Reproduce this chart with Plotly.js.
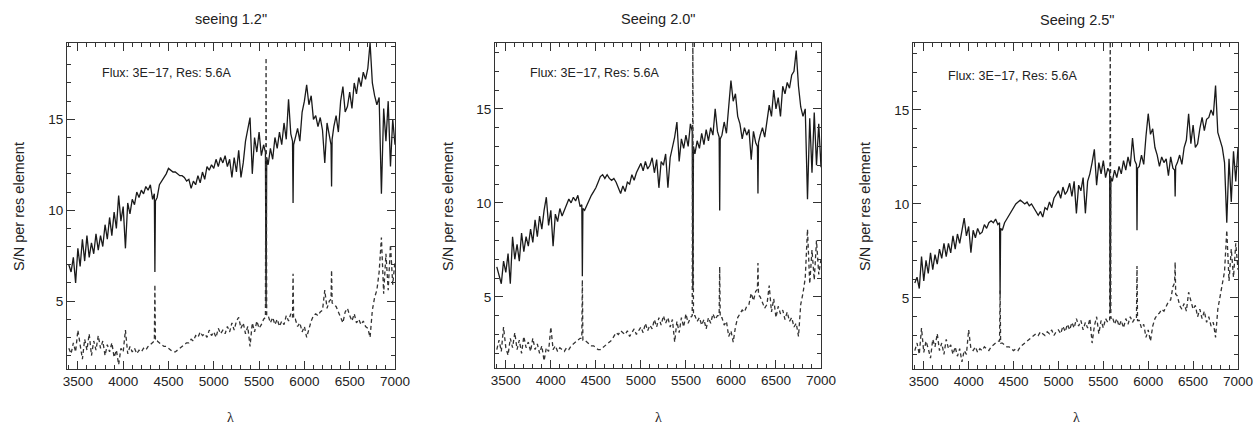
<!DOCTYPE html>
<html>
<head>
<meta charset="utf-8">
<script src="https://cdn.plot.ly/plotly-3.0.1.min.js"></script>
<style>html,body{margin:0;padding:0;background:#fff;}#chart{width:1257px;height:425px;}</style>
</head>
<body>
<div id="chart"></div>
<script>
// Wavelength grid (Angstrom), denser around the narrow lines
const wavelength = [3400,3425,3450,3475,3500,3525,3550,3575,3600,3625,3650,3675,3700,3725,3750,3775,3800,3825,3850,3875,
3900,3925,3950,3975,4000,4025,4050,4075,4100,4125,4150,4175,4200,4225,4250,4275,4300,4325,
4344,4350,4356,
4375,4400,4425,4450,4475,4500,4525,4550,4575,4600,4625,4650,4675,4700,4725,4750,4775,4800,4825,4850,4875,
4900,4925,4950,4975,5000,5025,5050,5075,5100,5125,5150,5175,5200,5225,5250,5275,5300,5325,5350,5375,
5400,5425,5450,5475,5500,5525,5550,
5570,5577,5584,
5600,5625,5650,5675,5700,5725,5750,5775,5800,5825,5850,
5869,5875,5881,
5900,5925,5950,5975,6000,6025,6050,6075,6100,6125,6150,6175,6200,6225,6250,6275,
6294,6300,6306,
6325,6350,6375,6400,6425,6450,6475,6500,6525,6550,6575,6600,6625,6650,6675,6700,6725,6750,6775,6800,6825,6850,6875,
6900,6925,6950,6975,7000];

// Seeing 1.2"
const sn12_solid = [7.0,6.6,7.4,6.0,7.9,6.9,8.4,7.2,8.6,7.4,8.2,7.6,8.7,7.8,8.6,8.0,9.2,8.4,9.6,8.6,
9.9,9.0,10.8,9.4,10.2,7.9,10.4,9.8,10.6,10.3,11.0,10.7,11.1,10.9,11.3,11.1,11.4,10.6,
10.9,6.6,10.5,
10.7,11.4,11.6,11.8,12.0,12.3,12.2,12.1,12.1,12.0,11.9,11.9,11.8,11.6,11.7,11.2,11.6,11.4,11.9,11.5,12.1,
11.7,12.4,12.2,12.5,12.3,12.8,12.4,12.9,12.6,13.0,12.4,12.8,11.8,12.9,12.1,13.3,11.8,12.6,13.8,14.4,
15.1,12.0,14.0,13.2,14.3,13.0,13.6,
13.2,4.7,12.9,
12.5,13.4,12.8,14.0,13.4,14.3,13.6,14.8,13.9,16.1,14.2,
13.8,10.4,13.6,
14.0,14.5,13.8,15.4,16.0,16.9,15.8,16.3,15.0,15.2,14.6,15.1,14.4,12.6,14.8,14.0,
13.6,11.3,13.9,
14.6,15.2,14.3,16.0,16.8,15.4,15.7,16.5,15.6,17.0,16.4,17.3,16.8,17.6,17.2,17.8,19.2,17.0,16.3,15.8,16.2,10.9,15.6,
13.8,16.0,12.4,15.0,13.6];
const sn12_dashed = [2.4,2.1,2.7,2.2,3.4,2.5,1.8,2.9,2.3,3.2,2.0,2.8,2.3,3.1,2.4,2.8,2.0,2.6,2.2,2.7,
1.9,2.3,1.5,2.4,2.2,3.4,2.1,2.5,2.2,2.4,2.1,2.3,2.2,2.4,2.3,2.5,2.6,2.7,
2.8,5.9,2.8,
2.8,2.7,2.6,2.5,2.5,2.4,2.3,2.2,2.2,2.3,2.4,2.5,2.6,2.7,2.7,2.9,2.8,3.1,3.0,3.3,3.1,
3.2,3.0,3.4,3.1,3.3,3.0,3.5,3.2,3.4,3.2,3.6,3.3,3.8,3.4,3.9,4.1,3.5,3.8,3.2,3.6,
2.5,3.8,3.3,3.9,3.5,3.7,4.0,
4.1,18.4,4.2,
4.2,3.8,4.1,3.7,4.0,3.6,3.9,3.7,4.2,3.9,4.3,
4.1,6.5,4.0,
4.0,3.6,3.8,3.3,3.6,3.0,3.5,3.9,4.2,4.3,4.2,4.4,4.5,5.6,4.6,5.0,
5.1,6.7,4.9,
4.8,4.7,4.4,4.1,3.8,4.4,4.6,4.2,3.9,4.3,3.8,4.0,3.7,3.9,3.6,3.5,3.0,4.5,5.2,5.6,6.6,8.5,5.4,
7.6,5.6,8.1,5.9,7.2];

// Seeing 2.0"
const sn20_solid = [6.6,6.2,5.7,6.9,6.3,7.3,5.7,8.2,7.0,7.8,6.9,8.4,7.4,8.2,7.7,8.6,7.9,9.1,8.2,9.3,
8.6,9.6,10.3,8.8,9.6,7.7,9.4,9.0,9.7,9.3,9.6,9.8,10.2,10.0,10.3,10.1,10.4,9.8,
9.9,6.1,9.7,
9.6,9.9,10.1,10.4,10.6,10.8,11.1,11.4,11.5,11.3,11.5,11.3,11.2,11.3,11.1,10.8,10.5,10.9,10.6,11.1,11.0,
11.5,11.2,11.6,11.9,12.1,11.7,12.2,11.8,12.0,12.4,11.6,12.3,10.8,12.2,12.0,12.6,10.8,12.4,12.9,13.5,
14.3,12.2,13.4,12.9,13.6,13.0,14.2,
13.8,5.4,13.0,
12.6,13.3,12.9,13.7,13.1,13.9,13.3,14.0,13.6,15.0,13.8,
13.5,9.6,13.4,
13.6,14.3,13.7,15.2,16.5,15.4,15.8,14.6,14.2,13.4,14.0,13.6,13.9,12.3,13.8,13.2,
13.0,10.5,13.2,
13.6,14.0,13.5,14.3,15.2,14.6,16.0,15.0,15.6,14.6,16.2,15.8,16.4,16.1,16.8,17.0,18.1,16.2,15.1,14.6,15.0,10.2,14.5,
11.6,14.8,12.0,14.2,11.9];
const sn20_dashed = [2.2,2.7,2.1,3.4,2.3,1.9,2.8,2.3,3.1,2.2,2.7,2.0,2.9,2.3,2.6,2.1,2.8,2.2,2.5,2.0,
2.4,1.6,2.3,2.1,3.4,2.2,2.4,2.1,2.3,2.2,2.1,2.3,2.2,2.4,2.5,2.6,2.7,2.8,
2.8,5.9,2.7,
2.7,2.6,2.5,2.4,2.4,2.3,2.2,2.2,2.3,2.4,2.5,2.6,2.7,2.9,3.1,3.0,3.2,3.1,3.0,3.2,2.9,
3.1,3.3,3.0,3.2,3.4,3.1,3.6,3.2,3.5,3.3,3.8,3.4,3.9,3.5,4.0,3.6,3.9,3.4,3.8,2.6,
3.7,3.1,3.9,3.4,4.1,3.6,3.9,
4.0,19.0,4.0,
4.0,3.7,3.9,3.5,3.8,3.3,3.9,3.6,4.1,3.8,4.0,
4.0,6.6,3.9,
3.9,3.5,3.7,2.9,3.2,2.6,3.4,3.9,4.1,4.3,4.2,4.5,4.6,5.2,4.8,5.3,
5.4,6.8,5.1,
5.0,4.7,4.4,4.6,5.6,4.2,4.9,3.9,4.5,4.1,4.3,3.8,4.2,3.7,3.9,3.4,3.6,2.9,4.6,5.2,6.0,8.6,5.7,
7.5,5.9,8.0,6.2,7.0];

// Seeing 2.5"
const sn25_solid = [5.8,6.1,5.5,7.2,5.9,7.0,6.3,7.4,6.5,7.3,6.8,7.6,7.1,7.9,7.2,7.9,7.4,8.3,7.6,8.4,
7.9,8.7,9.25,8.3,8.8,7.4,8.6,8.2,8.7,8.4,8.5,8.9,8.7,9.0,9.1,9.0,9.2,8.9,
9.0,5.2,8.7,
8.6,9.0,9.2,9.4,9.6,9.8,10.0,10.1,10.2,10.1,10.0,10.1,9.9,10.0,9.8,9.6,9.4,9.6,9.3,9.8,9.7,
10.1,9.8,10.3,10.5,10.7,10.3,10.9,10.5,10.7,11.1,10.4,11.2,9.5,11.0,10.7,11.4,9.5,11.2,11.6,12.2,
12.9,11.0,12.2,11.6,12.3,11.4,11.9,
11.7,4.4,11.4,
11.2,11.8,11.4,12.0,11.6,12.3,11.8,12.5,12.0,13.5,12.3,
12.1,8.6,11.9,
12.0,12.6,12.1,13.6,14.8,13.7,14.0,13.0,12.6,12.0,12.5,12.2,12.4,11.5,12.5,11.9,
11.8,10.4,12.0,
12.2,12.6,12.1,13.0,13.4,14.8,13.2,14.2,13.0,13.2,14.0,14.6,13.9,14.5,14.6,15.0,14.7,16.3,13.8,13.4,13.0,12.2,9.0,
12.4,10.1,12.8,11.2,13.0];
const sn25_dashed = [2.2,2.6,2.0,3.4,2.1,2.7,2.3,1.8,2.8,2.4,3.1,2.2,2.6,2.0,2.8,2.3,2.5,2.0,2.4,1.9,
2.3,1.6,2.2,2.0,3.3,2.3,2.2,2.4,2.1,2.3,2.2,2.4,2.3,2.2,2.4,2.5,2.6,2.7,
2.7,5.4,2.6,
2.6,2.5,2.4,2.4,2.3,2.2,2.3,2.2,2.4,2.5,2.6,2.7,2.8,2.9,3.0,3.1,3.0,3.2,3.1,3.0,3.2,
3.1,3.3,3.0,3.2,3.3,3.1,3.5,3.2,3.6,3.3,3.7,3.4,3.9,3.5,3.8,3.3,3.7,3.4,3.9,2.6,
3.5,4.0,3.1,3.8,3.4,3.9,3.7,
3.8,19.0,3.9,
4.0,3.6,3.9,3.5,3.8,3.4,3.9,3.6,4.0,3.7,3.9,
3.9,6.7,3.8,
3.8,3.4,3.6,2.9,3.3,2.7,3.5,3.9,4.1,4.2,4.4,4.3,4.6,4.8,4.9,5.6,
5.8,6.9,5.2,
5.1,4.6,4.4,4.7,4.3,5.3,4.9,4.4,4.6,4.0,4.4,3.9,4.3,3.7,4.0,3.5,3.7,2.9,4.4,5.0,5.8,6.4,8.6,
5.9,7.6,6.1,7.9,6.5];

const panelTitles = ['seeing 1.2"', 'Seeing 2.0"', 'Seeing 2.5"'];
const noteText = 'Flux: 3E\u221217, Res: 5.6A';
const yTitle = 'S/N per res element';
const xTitle = '\u03bb';
const xTickVals = [3500,4000,4500,5000,5500,6000,6500,7000];
const yTickVals = [5,10,15];

const W = 1257, H = 425;
const panels = [
  {solid: sn12_solid, dashed: sn12_dashed, x0: 67, x1: 395, yt: 43, yb: 369, yr: [1.26, 19.2], tx: 231, ty: 19, nx: 100, ny: 73, ytx: 19, xtx: 230},
  {solid: sn20_solid, dashed: sn20_dashed, x0: 495, x1: 821, yt: 43, yb: 368, yr: [1.22, 18.5], tx: 658, ty: 19, nx: 528, ny: 73, ytx: 448, xtx: 658},
  {solid: sn25_solid, dashed: sn25_dashed, x0: 913, x1: 1238, yt: 43, yb: 369, yr: [1.22, 18.56], tx: 1077, ty: 20, nx: 946, ny: 76, ytx: 865, xtx: 1076}
];

const traces = [];
const layout = {
  width: W, height: H, autosize: false,
  margin: {l: 0, r: 0, t: 0, b: 0, pad: 0},
  paper_bgcolor: '#ffffff', plot_bgcolor: '#ffffff',
  showlegend: false,
  font: {family: 'Liberation Sans, Arial, sans-serif', color: '#222', size: 13},
  annotations: []
};
const axCommon = {
  showgrid: false, zeroline: false, showline: true, mirror: 'ticks',
  linecolor: '#333', linewidth: 1, ticks: 'inside', tickcolor: '#333', tickwidth: 1,
  tickfont: {family: 'Liberation Sans, Arial, sans-serif', size: 13.5, color: '#222'}
};
panels.forEach((p, i) => {
  const sfx = i === 0 ? '' : String(i + 1);
  traces.push({x: wavelength, y: p.solid, type: 'scatter', mode: 'lines', xaxis: 'x' + sfx, yaxis: 'y' + sfx,
    line: {color: '#1a1a1a', width: 1.3}, hoverinfo: 'skip'});
  traces.push({x: wavelength, y: p.dashed, type: 'scatter', mode: 'lines', xaxis: 'x' + sfx, yaxis: 'y' + sfx,
    line: {color: '#333', width: 1.3, dash: '4px,3px'}, hoverinfo: 'skip'});
  layout['xaxis' + sfx] = Object.assign({}, axCommon, {
    domain: [p.x0 / W, p.x1 / W], anchor: 'y' + sfx, range: [3380, 7000],
    tickmode: 'array', tickvals: xTickVals, ticklen: 8,
    minor: {dtick: 100, tick0: 3400, ticklen: 4, ticks: 'inside', tickcolor: '#333', showgrid: false}
  });
  layout['yaxis' + sfx] = Object.assign({}, axCommon, {
    domain: [(H - p.yb) / H, (H - p.yt) / H], anchor: 'x' + sfx, range: p.yr,
    tickmode: 'array', tickvals: yTickVals, ticklen: 8,
    minor: {dtick: 1, tick0: 0, ticklen: 4, ticks: 'inside', tickcolor: '#333', showgrid: false}
  });
  layout.annotations.push({xref: 'paper', yref: 'paper', x: p.tx / W, y: 1 - p.ty / H, text: panelTitles[i],
    showarrow: false, xanchor: 'center', yanchor: 'middle', font: {size: 14.5, color: '#222'}});
  layout.annotations.push({xref: 'paper', yref: 'paper', x: p.nx / W, y: 1 - p.ny / H, text: noteText,
    showarrow: false, xanchor: 'left', yanchor: 'middle', font: {size: 12.5, color: '#222'}});
  layout.annotations.push({xref: 'paper', yref: 'paper', x: p.ytx / W, y: 1 - 207 / H, text: yTitle, textangle: -90,
    showarrow: false, xanchor: 'center', yanchor: 'middle', font: {size: 14.5, color: '#222'}});
  layout.annotations.push({xref: 'paper', yref: 'paper', x: p.xtx / W, y: 1 - 417 / H, text: xTitle,
    showarrow: false, xanchor: 'center', yanchor: 'middle', font: {family: 'Liberation Serif, serif', size: 14, color: '#222'}});
});
Plotly.newPlot('chart', traces, layout, {staticPlot: true, displayModeBar: false});
</script>
</body>
</html>
